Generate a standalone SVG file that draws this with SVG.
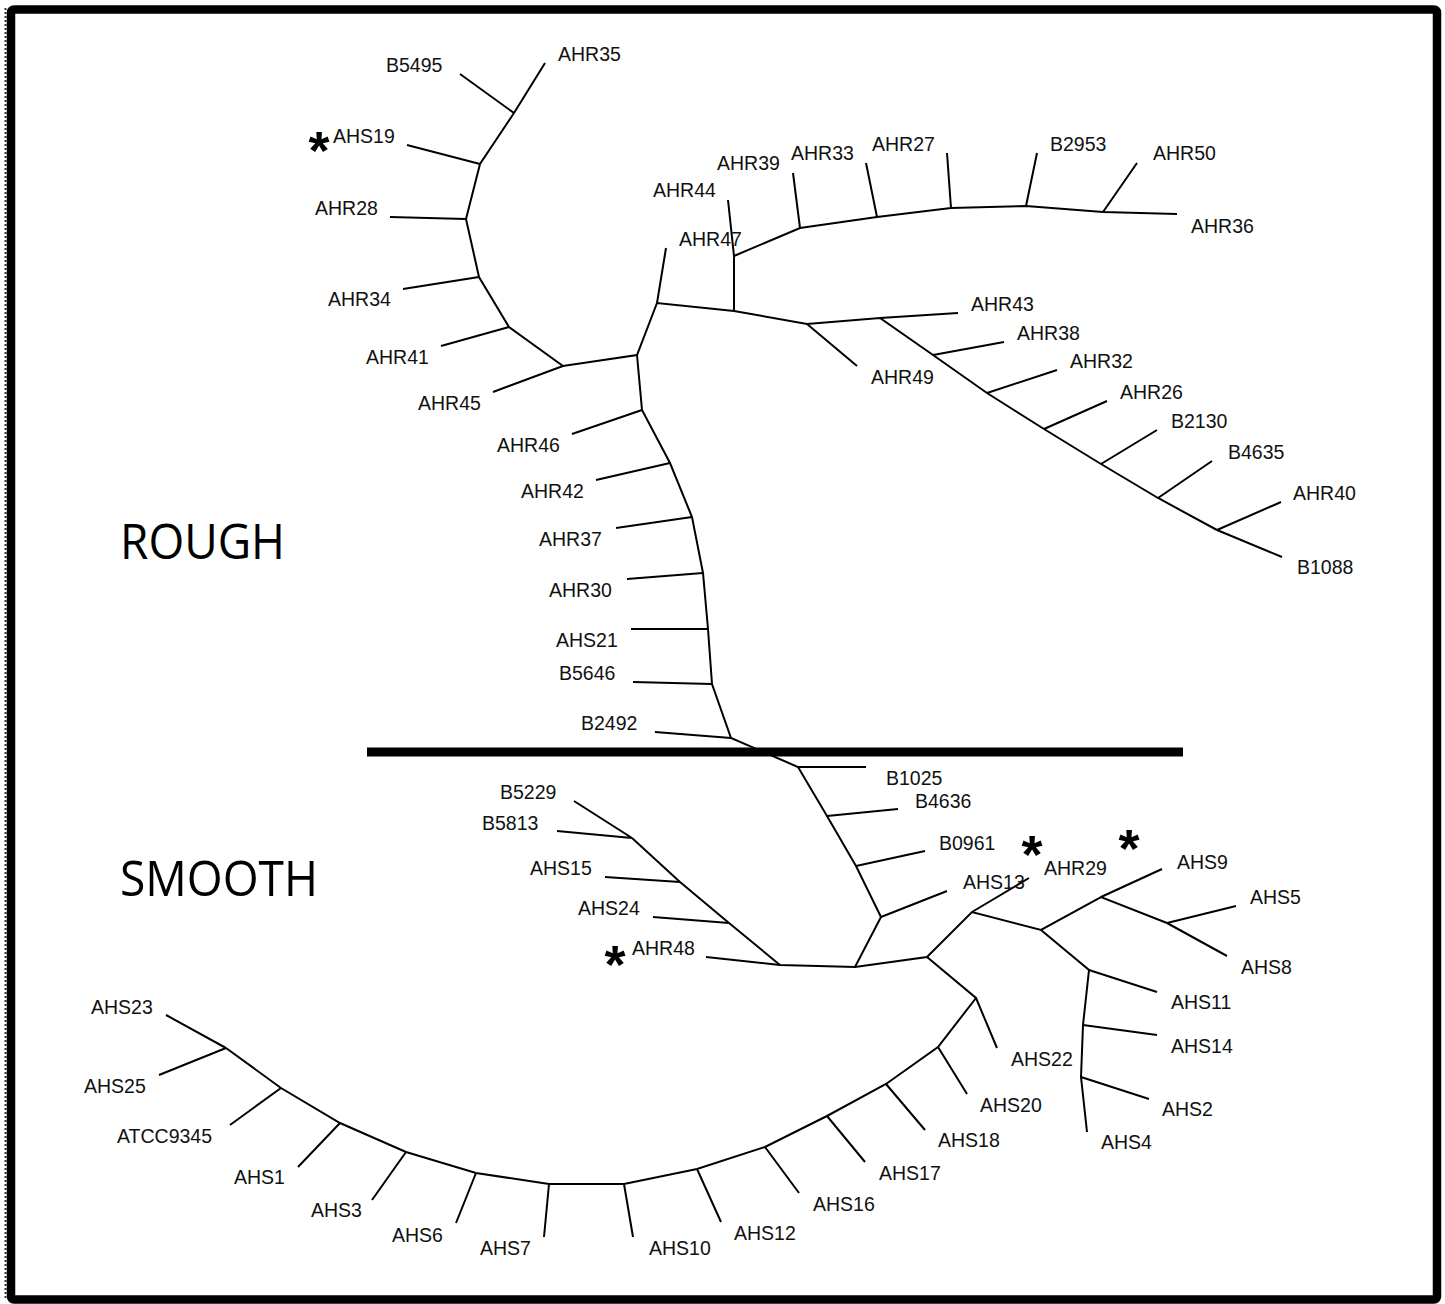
<svg xmlns="http://www.w3.org/2000/svg" width="1445" height="1304" viewBox="0 0 1445 1304">
<style>
.br{fill:none;stroke:#000;stroke-width:2;stroke-linejoin:miter;stroke-linecap:butt}
.lb{font-family:"Liberation Sans",Arial,sans-serif;font-size:19.5px;fill:#111}
.big{font-family:"Open Sans","Noto Sans",sans-serif;font-size:50px;fill:#000}
.st{font-family:"Liberation Sans",Arial,sans-serif;font-weight:bold;font-size:54px;fill:#000;text-anchor:middle}
</style>
<rect x="0" y="0" width="1445" height="1304" fill="#fff"/>
<line x1="5.5" y1="8" x2="5.5" y2="1298" stroke="#333" stroke-width="2" stroke-dasharray="2 2"/>
<rect x="11" y="9.5" width="1426" height="1290" rx="3" fill="none" stroke="#000" stroke-width="8.5"/>

<g id="connectors">
<path class="br" d="M514,113 L480,164 L466,219 L479,277 L509,327 L563,366 L637,355 L657,303 L734,311 L807,324 L880,318 L933,355 L987,393 L1044,429 L1101,464 L1158,498 L1217,530"/>
<path class="br" d="M734,311 L734,256 L800,228 L877,217 L951,208 L1026,206 L1103,212"/>
<path class="br" d="M637,355 L642,410 L670,463 L692,517 L703,573 L708,629 L712,684 L731,738 L798,767 L827,816 L856,866 L881,917 L855,967 L780,965 L729,923 L680,882 L632,838"/>
<path class="br" d="M855,967 L927,957 L972,912 L1041,930 L1101,897 L1167,923"/>
<path class="br" d="M1041,930 L1089,970 L1083,1025 L1081,1077"/>
<path class="br" d="M927,957 L976,998 L938,1047 L886,1084 L827,1116 L765,1147 L697,1169 L624,1184 L549,1184 L476,1173 L406,1152 L340,1123 L281,1088 L226,1048"/>
<path class="br" d="M514,113 L545,63 M514,113 L460,74 M480,164 L407,145 M466,219 L390,217 M479,277 L403,289 M509,327 L441,346 M563,366 L493,392 M657,303 L666,248 M734,256 L728,200 M800,228 L793,173 M877,217 L866,163 M951,208 L947,153 M1026,206 L1037,153 M1103,212 L1137,163 M1103,212 L1177,214"/>
<path class="br" d="M807,324 L857,366 M880,318 L958,313 M933,355 L1004,342 M987,393 L1057,370 M1044,429 L1107,401 M1101,464 L1157,430 M1158,498 L1212,461 M1217,530 L1281,502 M1217,530 L1282,557"/>
<path class="br" d="M642,410 L572,434 M670,463 L596,480 M692,517 L616,528 M703,573 L627,579 M708,629 L631,629 M712,684 L633,682 M731,738 L655,732"/>
<path class="br" d="M798,767 L866,767 M827,816 L898,809 M856,866 L925,851 M881,917 L947,891 M780,965 L706,957 M729,923 L653,917 M680,882 L605,877 M632,838 L557,831 M632,838 L574,801"/>
<path class="br" d="M972,912 L1029,878 M1101,897 L1162,869 M1167,923 L1236,906 M1167,923 L1227,956 M1089,970 L1157,992 M1083,1025 L1157,1035 M1081,1077 L1149,1099 M1081,1077 L1087,1132"/>
<path class="br" d="M976,998 L997,1048 M938,1047 L967,1094 M886,1084 L925,1130 M827,1116 L865,1162 M765,1147 L799,1193 M697,1169 L721,1222 M624,1184 L633,1237 M549,1184 L544,1237 M476,1173 L456,1223 M406,1152 L372,1200 M340,1123 L298,1167 M281,1088 L230,1125 M226,1048 L159,1075 M226,1048 L166,1015"/>
</g>

<line id="divider" x1="367" y1="752" x2="1183" y2="752" stroke="#000" stroke-width="9"/>

<g id="group-labels">
<text class="big" x="120" y="559" textLength="165" lengthAdjust="spacingAndGlyphs">ROUGH</text>
<text class="big" x="120" y="896" textLength="198" lengthAdjust="spacingAndGlyphs">SMOOTH</text>
</g>

<g id="stars">
<text class="st" x="319" y="169">*</text>
<text class="st" x="615" y="983">*</text>
<text class="st" x="1032" y="873">*</text>
<text class="st" x="1129" y="867">*</text>
</g>

<g id="AHR35"><text class="lb" x="558" y="61">AHR35</text></g>
<g id="B5495"><text class="lb" x="386" y="72">B5495</text></g>
<g id="AHS19"><text class="lb" x="333" y="143">AHS19</text></g>
<g id="AHR28"><text class="lb" x="315" y="215">AHR28</text></g>
<g id="AHR34"><text class="lb" x="328" y="306">AHR34</text></g>
<g id="AHR41"><text class="lb" x="366" y="364">AHR41</text></g>
<g id="AHR45"><text class="lb" x="418" y="410">AHR45</text></g>
<g id="AHR46"><text class="lb" x="497" y="452">AHR46</text></g>
<g id="AHR42"><text class="lb" x="521" y="498">AHR42</text></g>
<g id="AHR37"><text class="lb" x="539" y="546">AHR37</text></g>
<g id="AHR30"><text class="lb" x="549" y="597">AHR30</text></g>
<g id="AHS21"><text class="lb" x="556" y="647">AHS21</text></g>
<g id="B5646"><text class="lb" x="559" y="680">B5646</text></g>
<g id="B2492"><text class="lb" x="581" y="730">B2492</text></g>
<g id="AHR44"><text class="lb" x="653" y="197">AHR44</text></g>
<g id="AHR47"><text class="lb" x="679" y="246">AHR47</text></g>
<g id="AHR39"><text class="lb" x="717" y="170">AHR39</text></g>
<g id="AHR33"><text class="lb" x="791" y="160">AHR33</text></g>
<g id="AHR27"><text class="lb" x="872" y="151">AHR27</text></g>
<g id="B2953"><text class="lb" x="1050" y="151">B2953</text></g>
<g id="AHR50"><text class="lb" x="1153" y="160">AHR50</text></g>
<g id="AHR36"><text class="lb" x="1191" y="233">AHR36</text></g>
<g id="AHR43"><text class="lb" x="971" y="311">AHR43</text></g>
<g id="AHR38"><text class="lb" x="1017" y="340">AHR38</text></g>
<g id="AHR49"><text class="lb" x="871" y="384">AHR49</text></g>
<g id="AHR32"><text class="lb" x="1070" y="368">AHR32</text></g>
<g id="AHR26"><text class="lb" x="1120" y="399">AHR26</text></g>
<g id="B2130"><text class="lb" x="1171" y="428">B2130</text></g>
<g id="B4635"><text class="lb" x="1228" y="459">B4635</text></g>
<g id="AHR40"><text class="lb" x="1293" y="500">AHR40</text></g>
<g id="B1088"><text class="lb" x="1297" y="574">B1088</text></g>
<g id="B1025"><text class="lb" x="886" y="785">B1025</text></g>
<g id="B4636"><text class="lb" x="915" y="808">B4636</text></g>
<g id="B0961"><text class="lb" x="939" y="850">B0961</text></g>
<g id="AHS13"><text class="lb" x="963" y="889">AHS13</text></g>
<g id="AHR29"><text class="lb" x="1044" y="875">AHR29</text></g>
<g id="AHS9"><text class="lb" x="1177" y="869">AHS9</text></g>
<g id="AHS5"><text class="lb" x="1250" y="904">AHS5</text></g>
<g id="AHS8"><text class="lb" x="1241" y="974">AHS8</text></g>
<g id="AHS11"><text class="lb" x="1171" y="1009">AHS11</text></g>
<g id="AHS14"><text class="lb" x="1171" y="1053">AHS14</text></g>
<g id="AHS2"><text class="lb" x="1162" y="1116">AHS2</text></g>
<g id="AHS4"><text class="lb" x="1101" y="1149">AHS4</text></g>
<g id="AHS22"><text class="lb" x="1011" y="1066">AHS22</text></g>
<g id="AHS20"><text class="lb" x="980" y="1112">AHS20</text></g>
<g id="AHS18"><text class="lb" x="938" y="1147">AHS18</text></g>
<g id="AHS17"><text class="lb" x="879" y="1180">AHS17</text></g>
<g id="AHS16"><text class="lb" x="813" y="1211">AHS16</text></g>
<g id="AHS12"><text class="lb" x="734" y="1240">AHS12</text></g>
<g id="AHS10"><text class="lb" x="649" y="1255">AHS10</text></g>
<g id="AHS7"><text class="lb" x="480" y="1255">AHS7</text></g>
<g id="AHS6"><text class="lb" x="392" y="1242">AHS6</text></g>
<g id="AHS3"><text class="lb" x="311" y="1217">AHS3</text></g>
<g id="AHS1"><text class="lb" x="234" y="1184">AHS1</text></g>
<g id="ATCC9345"><text class="lb" x="117" y="1143">ATCC9345</text></g>
<g id="AHS25"><text class="lb" x="84" y="1093">AHS25</text></g>
<g id="AHS23"><text class="lb" x="91" y="1014">AHS23</text></g>
<g id="B5229"><text class="lb" x="500" y="799">B5229</text></g>
<g id="B5813"><text class="lb" x="482" y="830">B5813</text></g>
<g id="AHS15"><text class="lb" x="530" y="875">AHS15</text></g>
<g id="AHS24"><text class="lb" x="578" y="915">AHS24</text></g>
<g id="AHR48"><text class="lb" x="632" y="955">AHR48</text></g>
</svg>
